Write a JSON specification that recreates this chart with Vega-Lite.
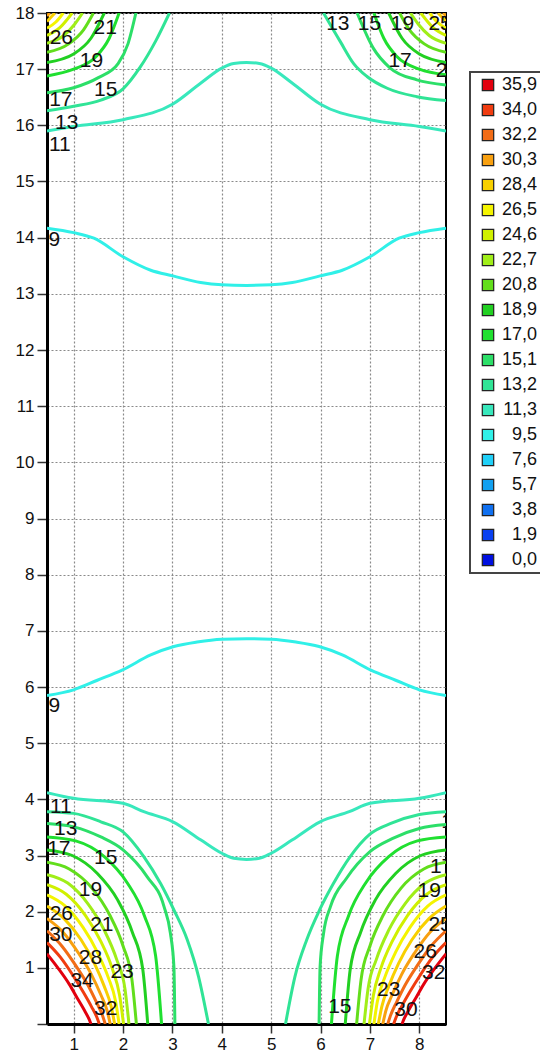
{
"$schema": "https://vega.github.io/schema/vega-lite/v6.json",
"width": 399, "height": 1011,
"autosize": {"type": "none"},
"padding": {"left": 47, "top": 13, "right": 94, "bottom": 37},
"background": "white",
"config": {"view": {"stroke": "black", "strokeWidth": 2}, "font": "Liberation Sans", "legend": {"strokeWidth": 2}},
"datasets": {
"lines": [
{"l":"9,5","s":"T9","x":0.46,"y":14.17},{"l":"9,5","s":"T9","x":1.0,"y":14.09},{"l":"9,5","s":"T9","x":1.41,"y":13.99},{"l":"9,5","s":"T9","x":2.0,"y":13.66},{"l":"9,5","s":"T9","x":2.56,"y":13.42},{"l":"9,5","s":"T9","x":3.01,"y":13.32},{"l":"9,5","s":"T9","x":3.57,"y":13.2},{"l":"9,5","s":"T9","x":4.0,"y":13.16},{"l":"9,5","s":"T9","x":4.5,"y":13.15},{"l":"9,5","s":"T9","x":5.0,"y":13.16},{"l":"9,5","s":"T9","x":5.43,"y":13.2},{"l":"9,5","s":"T9","x":5.99,"y":13.32},{"l":"9,5","s":"T9","x":6.44,"y":13.42},{"l":"9,5","s":"T9","x":7.0,"y":13.66},{"l":"9,5","s":"T9","x":7.59,"y":13.99},{"l":"9,5","s":"T9","x":8.0,"y":14.09},{"l":"9,5","s":"T9","x":8.54,"y":14.17},
{"l":"11,3","s":"T11","x":0.46,"y":15.9},{"l":"11,3","s":"T11","x":1.0,"y":15.98},{"l":"11,3","s":"T11","x":2.0,"y":16.1},{"l":"11,3","s":"T11","x":3.01,"y":16.38},{"l":"11,3","s":"T11","x":3.57,"y":16.75},{"l":"11,3","s":"T11","x":4.0,"y":17.02},{"l":"11,3","s":"T11","x":4.24,"y":17.1},{"l":"11,3","s":"T11","x":4.5,"y":17.12},{"l":"11,3","s":"T11","x":4.76,"y":17.1},{"l":"11,3","s":"T11","x":5.0,"y":17.02},{"l":"11,3","s":"T11","x":5.43,"y":16.75},{"l":"11,3","s":"T11","x":5.99,"y":16.38},{"l":"11,3","s":"T11","x":7.0,"y":16.1},{"l":"11,3","s":"T11","x":8.0,"y":15.98},{"l":"11,3","s":"T11","x":8.54,"y":15.9},
{"l":"9,5","s":"B9","x":0.46,"y":5.85},{"l":"9,5","s":"B9","x":1.0,"y":5.95},{"l":"9,5","s":"B9","x":1.48,"y":6.12},{"l":"9,5","s":"B9","x":1.98,"y":6.3},{"l":"9,5","s":"B9","x":2.56,"y":6.57},{"l":"9,5","s":"B9","x":3.03,"y":6.72},{"l":"9,5","s":"B9","x":3.5,"y":6.8},{"l":"9,5","s":"B9","x":4.0,"y":6.85},{"l":"9,5","s":"B9","x":4.5,"y":6.86},{"l":"9,5","s":"B9","x":5.0,"y":6.85},{"l":"9,5","s":"B9","x":5.5,"y":6.8},{"l":"9,5","s":"B9","x":5.97,"y":6.72},{"l":"9,5","s":"B9","x":6.44,"y":6.57},{"l":"9,5","s":"B9","x":7.02,"y":6.3},{"l":"9,5","s":"B9","x":7.52,"y":6.12},{"l":"9,5","s":"B9","x":8.0,"y":5.95},{"l":"9,5","s":"B9","x":8.54,"y":5.85},
{"l":"11,3","s":"B11","x":0.46,"y":4.12},{"l":"11,3","s":"B11","x":1.0,"y":4.02},{"l":"11,3","s":"B11","x":2.0,"y":3.93},{"l":"11,3","s":"B11","x":2.42,"y":3.78},{"l":"11,3","s":"B11","x":3.01,"y":3.6},{"l":"11,3","s":"B11","x":3.57,"y":3.28},{"l":"11,3","s":"B11","x":4.0,"y":3.04},{"l":"11,3","s":"B11","x":4.24,"y":2.95},{"l":"11,3","s":"B11","x":4.5,"y":2.93},{"l":"11,3","s":"B11","x":4.76,"y":2.95},{"l":"11,3","s":"B11","x":5.0,"y":3.04},{"l":"11,3","s":"B11","x":5.43,"y":3.28},{"l":"11,3","s":"B11","x":5.99,"y":3.6},{"l":"11,3","s":"B11","x":6.58,"y":3.78},{"l":"11,3","s":"B11","x":7.0,"y":3.93},{"l":"11,3","s":"B11","x":8.0,"y":4.02},{"l":"11,3","s":"B11","x":8.54,"y":4.12},
{"l":"13,2","s":"BL13","x":0.46,"y":3.78},{"l":"13,2","s":"BL13","x":1.0,"y":3.75},{"l":"13,2","s":"BL13","x":1.55,"y":3.6},{"l":"13,2","s":"BL13","x":2.0,"y":3.42},{"l":"13,2","s":"BL13","x":2.42,"y":2.98},{"l":"13,2","s":"BL13","x":2.76,"y":2.5},{"l":"13,2","s":"BL13","x":3.03,"y":2.03},{"l":"13,2","s":"BL13","x":3.3,"y":1.5},{"l":"13,2","s":"BL13","x":3.53,"y":0.84},{"l":"13,2","s":"BL13","x":3.73,"y":0},
{"l":"15,1","s":"BL15","x":0.46,"y":3.57},{"l":"15,1","s":"BL15","x":1.0,"y":3.51},{"l":"15,1","s":"BL15","x":1.55,"y":3.33},{"l":"15,1","s":"BL15","x":2.0,"y":3.1},{"l":"15,1","s":"BL15","x":2.49,"y":2.62},{"l":"15,1","s":"BL15","x":2.83,"y":2.09},{"l":"15,1","s":"BL15","x":2.96,"y":1.61},{"l":"15,1","s":"BL15","x":3.03,"y":1.02},{"l":"15,1","s":"BL15","x":3.05,"y":0},
{"l":"17,0","s":"BL17","x":0.46,"y":3.33},{"l":"17,0","s":"BL17","x":1.04,"y":3.26},{"l":"17,0","s":"BL17","x":1.62,"y":2.98},{"l":"17,0","s":"BL17","x":2.08,"y":2.52},{"l":"17,0","s":"BL17","x":2.43,"y":1.93},{"l":"17,0","s":"BL17","x":2.66,"y":1.21},{"l":"17,0","s":"BL17","x":2.78,"y":0},
{"l":"18,9","s":"BL18","x":0.46,"y":3.1},{"l":"18,9","s":"BL18","x":0.97,"y":3.0},{"l":"18,9","s":"BL18","x":1.48,"y":2.68},{"l":"18,9","s":"BL18","x":1.89,"y":2.21},{"l":"18,9","s":"BL18","x":2.19,"y":1.63},{"l":"18,9","s":"BL18","x":2.4,"y":0.97},{"l":"18,9","s":"BL18","x":2.5,"y":0},
{"l":"20,8","s":"BL20","x":0.46,"y":2.88},{"l":"20,8","s":"BL20","x":0.91,"y":2.76},{"l":"20,8","s":"BL20","x":1.37,"y":2.42},{"l":"20,8","s":"BL20","x":1.73,"y":1.94},{"l":"20,8","s":"BL20","x":2.0,"y":1.39},{"l":"20,8","s":"BL20","x":2.18,"y":0.79},{"l":"20,8","s":"BL20","x":2.27,"y":0},
{"l":"22,7","s":"BL22","x":0.46,"y":2.66},{"l":"22,7","s":"BL22","x":0.88,"y":2.51},{"l":"22,7","s":"BL22","x":1.29,"y":2.14},{"l":"22,7","s":"BL22","x":1.62,"y":1.67},{"l":"22,7","s":"BL22","x":1.87,"y":1.15},{"l":"22,7","s":"BL22","x":2.04,"y":0.62},{"l":"22,7","s":"BL22","x":2.12,"y":0},
{"l":"24,6","s":"BL24","x":0.46,"y":2.48},{"l":"24,6","s":"BL24","x":0.85,"y":2.31},{"l":"24,6","s":"BL24","x":1.24,"y":1.93},{"l":"24,6","s":"BL24","x":1.55,"y":1.47},{"l":"24,6","s":"BL24","x":1.78,"y":0.99},{"l":"24,6","s":"BL24","x":1.93,"y":0.51},{"l":"24,6","s":"BL24","x":2.01,"y":0},
{"l":"26,5","s":"BL26","x":0.46,"y":2.3},{"l":"26,5","s":"BL26","x":0.83,"y":2.1},{"l":"26,5","s":"BL26","x":1.19,"y":1.72},{"l":"26,5","s":"BL26","x":1.48,"y":1.28},{"l":"26,5","s":"BL26","x":1.7,"y":0.83},{"l":"26,5","s":"BL26","x":1.85,"y":0.4},{"l":"26,5","s":"BL26","x":1.92,"y":0},
{"l":"28,4","s":"BL28","x":0.46,"y":2.1},{"l":"28,4","s":"BL28","x":0.8,"y":1.88},{"l":"28,4","s":"BL28","x":1.15,"y":1.5},{"l":"28,4","s":"BL28","x":1.42,"y":1.08},{"l":"28,4","s":"BL28","x":1.62,"y":0.67},{"l":"28,4","s":"BL28","x":1.76,"y":0.31},{"l":"28,4","s":"BL28","x":1.83,"y":0},
{"l":"30,3","s":"BL30","x":0.46,"y":1.88},{"l":"30,3","s":"BL30","x":0.78,"y":1.64},{"l":"30,3","s":"BL30","x":1.1,"y":1.26},{"l":"30,3","s":"BL30","x":1.36,"y":0.88},{"l":"30,3","s":"BL30","x":1.55,"y":0.52},{"l":"30,3","s":"BL30","x":1.68,"y":0.23},{"l":"30,3","s":"BL30","x":1.74,"y":0},
{"l":"32,2","s":"BL32","x":0.46,"y":1.66},{"l":"32,2","s":"BL32","x":0.76,"y":1.39},{"l":"32,2","s":"BL32","x":1.05,"y":1.03},{"l":"32,2","s":"BL32","x":1.29,"y":0.69},{"l":"32,2","s":"BL32","x":1.46,"y":0.39},{"l":"32,2","s":"BL32","x":1.58,"y":0.16},{"l":"32,2","s":"BL32","x":1.64,"y":0},
{"l":"34,0","s":"BL34","x":0.46,"y":1.45},{"l":"34,0","s":"BL34","x":0.73,"y":1.19},{"l":"34,0","s":"BL34","x":0.99,"y":0.86},{"l":"34,0","s":"BL34","x":1.2,"y":0.56},{"l":"34,0","s":"BL34","x":1.36,"y":0.31},{"l":"34,0","s":"BL34","x":1.47,"y":0.12},{"l":"34,0","s":"BL34","x":1.52,"y":0},
{"l":"35,9","s":"BL35","x":0.46,"y":1.25},{"l":"35,9","s":"BL35","x":0.68,"y":1.0},{"l":"35,9","s":"BL35","x":0.91,"y":0.71},{"l":"35,9","s":"BL35","x":1.08,"y":0.45},{"l":"35,9","s":"BL35","x":1.22,"y":0.24},{"l":"35,9","s":"BL35","x":1.31,"y":0.09},{"l":"35,9","s":"BL35","x":1.35,"y":0},
{"l":"13,2","s":"BR13","x":8.54,"y":3.78},{"l":"13,2","s":"BR13","x":8.0,"y":3.73},{"l":"13,2","s":"BR13","x":7.45,"y":3.58},{"l":"13,2","s":"BR13","x":7.0,"y":3.38},{"l":"13,2","s":"BR13","x":6.6,"y":2.98},{"l":"13,2","s":"BR13","x":6.26,"y":2.5},{"l":"13,2","s":"BR13","x":5.98,"y":2.03},{"l":"13,2","s":"BR13","x":5.72,"y":1.5},{"l":"13,2","s":"BR13","x":5.48,"y":0.84},{"l":"13,2","s":"BR13","x":5.29,"y":0},
{"l":"15,1","s":"BR15","x":8.54,"y":3.55},{"l":"15,1","s":"BR15","x":8.0,"y":3.48},{"l":"15,1","s":"BR15","x":7.45,"y":3.3},{"l":"15,1","s":"BR15","x":7.0,"y":3.07},{"l":"15,1","s":"BR15","x":6.53,"y":2.6},{"l":"15,1","s":"BR15","x":6.2,"y":2.09},{"l":"15,1","s":"BR15","x":6.06,"y":1.61},{"l":"15,1","s":"BR15","x":5.99,"y":1.02},{"l":"15,1","s":"BR15","x":5.97,"y":0},
{"l":"17,0","s":"BR17","x":8.54,"y":3.33},{"l":"17,0","s":"BR17","x":7.96,"y":3.26},{"l":"17,0","s":"BR17","x":7.38,"y":2.98},{"l":"17,0","s":"BR17","x":6.92,"y":2.52},{"l":"17,0","s":"BR17","x":6.57,"y":1.93},{"l":"17,0","s":"BR17","x":6.34,"y":1.21},{"l":"17,0","s":"BR17","x":6.22,"y":0},
{"l":"18,9","s":"BR18","x":8.54,"y":3.1},{"l":"18,9","s":"BR18","x":8.03,"y":3.0},{"l":"18,9","s":"BR18","x":7.52,"y":2.68},{"l":"18,9","s":"BR18","x":7.11,"y":2.21},{"l":"18,9","s":"BR18","x":6.81,"y":1.63},{"l":"18,9","s":"BR18","x":6.6,"y":0.97},{"l":"18,9","s":"BR18","x":6.5,"y":0},
{"l":"20,8","s":"BR20","x":8.54,"y":2.88},{"l":"20,8","s":"BR20","x":8.09,"y":2.76},{"l":"20,8","s":"BR20","x":7.63,"y":2.42},{"l":"20,8","s":"BR20","x":7.27,"y":1.94},{"l":"20,8","s":"BR20","x":7.0,"y":1.39},{"l":"20,8","s":"BR20","x":6.82,"y":0.79},{"l":"20,8","s":"BR20","x":6.73,"y":0},
{"l":"22,7","s":"BR22","x":8.54,"y":2.66},{"l":"22,7","s":"BR22","x":8.12,"y":2.51},{"l":"22,7","s":"BR22","x":7.71,"y":2.14},{"l":"22,7","s":"BR22","x":7.38,"y":1.67},{"l":"22,7","s":"BR22","x":7.13,"y":1.15},{"l":"22,7","s":"BR22","x":6.96,"y":0.62},{"l":"22,7","s":"BR22","x":6.88,"y":0},
{"l":"24,6","s":"BR24","x":8.54,"y":2.48},{"l":"24,6","s":"BR24","x":8.15,"y":2.31},{"l":"24,6","s":"BR24","x":7.76,"y":1.93},{"l":"24,6","s":"BR24","x":7.45,"y":1.47},{"l":"24,6","s":"BR24","x":7.22,"y":0.99},{"l":"24,6","s":"BR24","x":7.07,"y":0.51},{"l":"24,6","s":"BR24","x":6.99,"y":0},
{"l":"26,5","s":"BR26","x":8.54,"y":2.3},{"l":"26,5","s":"BR26","x":8.17,"y":2.1},{"l":"26,5","s":"BR26","x":7.81,"y":1.72},{"l":"26,5","s":"BR26","x":7.52,"y":1.28},{"l":"26,5","s":"BR26","x":7.3,"y":0.83},{"l":"26,5","s":"BR26","x":7.15,"y":0.4},{"l":"26,5","s":"BR26","x":7.08,"y":0},
{"l":"28,4","s":"BR28","x":8.54,"y":2.1},{"l":"28,4","s":"BR28","x":8.2,"y":1.88},{"l":"28,4","s":"BR28","x":7.85,"y":1.5},{"l":"28,4","s":"BR28","x":7.58,"y":1.08},{"l":"28,4","s":"BR28","x":7.38,"y":0.67},{"l":"28,4","s":"BR28","x":7.24,"y":0.31},{"l":"28,4","s":"BR28","x":7.17,"y":0},
{"l":"30,3","s":"BR30","x":8.54,"y":1.88},{"l":"30,3","s":"BR30","x":8.22,"y":1.64},{"l":"30,3","s":"BR30","x":7.9,"y":1.26},{"l":"30,3","s":"BR30","x":7.64,"y":0.88},{"l":"30,3","s":"BR30","x":7.45,"y":0.52},{"l":"30,3","s":"BR30","x":7.32,"y":0.23},{"l":"30,3","s":"BR30","x":7.26,"y":0},
{"l":"32,2","s":"BR32","x":8.54,"y":1.66},{"l":"32,2","s":"BR32","x":8.24,"y":1.39},{"l":"32,2","s":"BR32","x":7.95,"y":1.03},{"l":"32,2","s":"BR32","x":7.71,"y":0.69},{"l":"32,2","s":"BR32","x":7.54,"y":0.39},{"l":"32,2","s":"BR32","x":7.42,"y":0.16},{"l":"32,2","s":"BR32","x":7.36,"y":0},
{"l":"34,0","s":"BR34","x":8.54,"y":1.45},{"l":"34,0","s":"BR34","x":8.27,"y":1.19},{"l":"34,0","s":"BR34","x":8.01,"y":0.86},{"l":"34,0","s":"BR34","x":7.8,"y":0.56},{"l":"34,0","s":"BR34","x":7.64,"y":0.31},{"l":"34,0","s":"BR34","x":7.53,"y":0.12},{"l":"34,0","s":"BR34","x":7.48,"y":0},
{"l":"35,9","s":"BR35","x":8.54,"y":1.25},{"l":"35,9","s":"BR35","x":8.32,"y":1.0},{"l":"35,9","s":"BR35","x":8.09,"y":0.71},{"l":"35,9","s":"BR35","x":7.92,"y":0.45},{"l":"35,9","s":"BR35","x":7.78,"y":0.24},{"l":"35,9","s":"BR35","x":7.69,"y":0.09},{"l":"35,9","s":"BR35","x":7.65,"y":0},
{"l":"13,2","s":"TL13","x":0.46,"y":16.26},{"l":"13,2","s":"TL13","x":1.0,"y":16.34},{"l":"13,2","s":"TL13","x":1.55,"y":16.45},{"l":"13,2","s":"TL13","x":2.0,"y":16.65},{"l":"13,2","s":"TL13","x":2.35,"y":17.04},{"l":"13,2","s":"TL13","x":2.66,"y":17.5},{"l":"13,2","s":"TL13","x":2.94,"y":18},
{"l":"15,1","s":"TL15","x":0.46,"y":16.58},{"l":"15,1","s":"TL15","x":1.0,"y":16.67},{"l":"15,1","s":"TL15","x":1.5,"y":16.85},{"l":"15,1","s":"TL15","x":1.9,"y":17.1},{"l":"15,1","s":"TL15","x":2.1,"y":17.45},{"l":"15,1","s":"TL15","x":2.26,"y":18},
{"l":"17,0","s":"TL17","x":0.46,"y":16.88},{"l":"17,0","s":"TL17","x":1.0,"y":17.0},{"l":"17,0","s":"TL17","x":1.45,"y":17.22},{"l":"17,0","s":"TL17","x":1.72,"y":17.55},{"l":"17,0","s":"TL17","x":1.92,"y":18},
{"l":"18,9","s":"TL18","x":0.46,"y":17.12},{"l":"18,9","s":"TL18","x":1.0,"y":17.27},{"l":"18,9","s":"TL18","x":1.35,"y":17.55},{"l":"18,9","s":"TL18","x":1.62,"y":18},
{"l":"20,8","s":"TL20","x":0.46,"y":17.3},{"l":"20,8","s":"TL20","x":0.9,"y":17.45},{"l":"20,8","s":"TL20","x":1.2,"y":17.7},{"l":"20,8","s":"TL20","x":1.4,"y":18},
{"l":"22,7","s":"TL22","x":0.46,"y":17.46},{"l":"22,7","s":"TL22","x":0.8,"y":17.6},{"l":"22,7","s":"TL22","x":1.02,"y":17.8},{"l":"22,7","s":"TL22","x":1.18,"y":18},
{"l":"24,6","s":"TL24","x":0.46,"y":17.6},{"l":"24,6","s":"TL24","x":0.72,"y":17.74},{"l":"24,6","s":"TL24","x":0.97,"y":18},
{"l":"26,5","s":"TL26","x":0.46,"y":17.73},{"l":"26,5","s":"TL26","x":0.64,"y":17.84},{"l":"26,5","s":"TL26","x":0.79,"y":18},
{"l":"28,4","s":"TL28","x":0.46,"y":17.85},{"l":"28,4","s":"TL28","x":0.62,"y":18},
{"l":"30,3","s":"TL30","x":0.46,"y":17.95},{"l":"30,3","s":"TL30","x":0.52,"y":18},
{"l":"13,2","s":"TR13","x":6.06,"y":18},{"l":"13,2","s":"TR13","x":6.4,"y":17.49},{"l":"13,2","s":"TR13","x":6.67,"y":17.1},{"l":"13,2","s":"TR13","x":6.94,"y":16.87},{"l":"13,2","s":"TR13","x":7.35,"y":16.66},{"l":"13,2","s":"TR13","x":7.95,"y":16.51},{"l":"13,2","s":"TR13","x":8.54,"y":16.44},
{"l":"15,1","s":"TR15","x":6.74,"y":18},{"l":"15,1","s":"TR15","x":7.07,"y":17.37},{"l":"15,1","s":"TR15","x":7.41,"y":17.02},{"l":"15,1","s":"TR15","x":7.95,"y":16.81},{"l":"15,1","s":"TR15","x":8.54,"y":16.72},
{"l":"17,0","s":"TR17","x":7.08,"y":18},{"l":"17,0","s":"TR17","x":7.28,"y":17.55},{"l":"17,0","s":"TR17","x":7.55,"y":17.22},{"l":"17,0","s":"TR17","x":8.0,"y":17.0},{"l":"17,0","s":"TR17","x":8.54,"y":16.9},
{"l":"18,9","s":"TR18","x":7.38,"y":18},{"l":"18,9","s":"TR18","x":7.65,"y":17.55},{"l":"18,9","s":"TR18","x":8.0,"y":17.27},{"l":"18,9","s":"TR18","x":8.54,"y":17.12},
{"l":"20,8","s":"TR20","x":7.6,"y":18},{"l":"20,8","s":"TR20","x":7.8,"y":17.7},{"l":"20,8","s":"TR20","x":8.1,"y":17.45},{"l":"20,8","s":"TR20","x":8.54,"y":17.3},
{"l":"22,7","s":"TR22","x":7.82,"y":18},{"l":"22,7","s":"TR22","x":7.98,"y":17.8},{"l":"22,7","s":"TR22","x":8.2,"y":17.6},{"l":"22,7","s":"TR22","x":8.54,"y":17.46},
{"l":"24,6","s":"TR24","x":8.03,"y":18},{"l":"24,6","s":"TR24","x":8.28,"y":17.74},{"l":"24,6","s":"TR24","x":8.54,"y":17.6},
{"l":"26,5","s":"TR26","x":8.21,"y":18},{"l":"26,5","s":"TR26","x":8.36,"y":17.84},{"l":"26,5","s":"TR26","x":8.54,"y":17.73},
{"l":"28,4","s":"TR28","x":8.38,"y":18},{"l":"28,4","s":"TR28","x":8.54,"y":17.85},
{"l":"30,3","s":"TR30","x":8.48,"y":18},{"l":"30,3","s":"TR30","x":8.54,"y":17.95}
],
"labels": [
{"t":"26","x":0.75,"y":17.56},{"t":"21","x":1.64,"y":17.74},{"t":"19","x":1.36,"y":17.14},{"t":"17","x":0.74,"y":16.45},{"t":"15","x":1.65,"y":16.63},{"t":"13","x":0.86,"y":16.05},{"t":"11","x":0.72,"y":15.65},
{"t":"13","x":6.35,"y":17.8},{"t":"15","x":6.99,"y":17.8},{"t":"19","x":7.66,"y":17.8},{"t":"25","x":8.42,"y":17.8},{"t":"17","x":7.61,"y":17.14},{"t":"21","x":8.57,"y":16.97},
{"t":"9","x":0.61,"y":13.95},{"t":"9","x":0.61,"y":5.66},
{"t":"11","x":0.74,"y":3.87},{"t":"13","x":0.84,"y":3.48},{"t":"17","x":0.7,"y":3.12},{"t":"15","x":1.65,"y":2.96},{"t":"19","x":1.34,"y":2.38},{"t":"26","x":0.75,"y":1.95},{"t":"21","x":1.57,"y":1.77},{"t":"30","x":0.74,"y":1.58},{"t":"28","x":1.34,"y":1.18},{"t":"23","x":1.98,"y":0.92},{"t":"34","x":1.17,"y":0.77},{"t":"32","x":1.65,"y":0.26},
{"t":"13","x":8.68,"y":3.6},{"t":"17","x":8.45,"y":2.8},{"t":"19","x":8.2,"y":2.36},{"t":"25","x":8.42,"y":1.76},{"t":"26","x":8.12,"y":1.29},{"t":"32","x":8.29,"y":0.9},{"t":"23","x":7.38,"y":0.6},{"t":"30","x":7.73,"y":0.25},{"t":"15","x":6.39,"y":0.31}
],
"levels": [
{"l":"35,9"},{"l":"34,0"},{"l":"32,2"},{"l":"30,3"},{"l":"28,4"},{"l":"26,5"},{"l":"24,6"},{"l":"22,7"},{"l":"20,8"},{"l":"18,9"},{"l":"17,0"},{"l":"15,1"},{"l":"13,2"},{"l":"11,3"},{"l":"9,5"},{"l":"7,6"},{"l":"5,7"},{"l":"3,8"},{"l":"1,9"},{"l":"0,0"}
]
},
"encoding": {
"x": {"field": "x", "type": "quantitative", "scale": {"domain": [0.46, 8.54], "zero": false, "nice": false},
 "axis": {"title": null, "values": [1,2,3,4,5,6,7,8], "format": "d",
  "labelOverlap": false, "labelFlush": false, "labelFontSize": 17, "labelFont": "Liberation Sans", "labelColor": "#111", "labelPadding": 3,
  "tickSize": 9, "tickColor": "#333", "tickWidth": 1.5,
  "domainColor": "black", "domainWidth": 3,
  "grid": true, "gridColor": "#8a8a8a", "gridDash": [2, 2], "gridWidth": 1.2}},
"y": {"field": "y", "type": "quantitative", "scale": {"domain": [0, 18], "zero": false, "nice": false},
 "axis": {"title": null, "values": [0,1,2,3,4,5,6,7,8,9,10,11,12,13,14,15,16,17,18], "format": "d",
  "labelExpr": "datum.value > 0 ? datum.label : ''", "labelOverlap": false, "labelFlush": false, "labelFontSize": 17, "labelFont": "Liberation Sans", "labelColor": "#111", "labelPadding": 3,
  "tickSize": 10, "tickColor": "#333", "tickWidth": 1.5,
  "domainColor": "black", "domainWidth": 3,
  "grid": true, "gridColor": "#8a8a8a", "gridDash": [2, 2], "gridWidth": 1.2}}
},
"layer": [
{
"data": {"name": "lines"},
"mark": {"type": "line", "strokeWidth": 3, "clip": true, "interpolate": "monotone"},
"encoding": {
"stroke": {"field": "l", "type": "nominal", "legend": null,
 "scale": {"domain": ["35,9","34,0","32,2","30,3","28,4","26,5","24,6","22,7","20,8","18,9","17,0","15,1","13,2","11,3","9,5"],
  "range": ["#e2000e","#f03c10","#f26c16","#f8a010","#f8d000","#f4f400","#d0f000","#a0ee18","#62de1c","#22d022","#20e030","#2cdf68","#30e496","#38e8bc","#30f0e8"]}},
"detail": {"field": "s", "type": "nominal"}
}
},
{
"data": {"name": "labels"},
"mark": {"type": "text", "fontSize": 21, "font": "Liberation Sans", "color": "#111", "align": "center", "baseline": "middle", "clip": true},
"encoding": {
"text": {"field": "t", "type": "nominal"}
}
},
{
"data": {"name": "levels"},
"mark": {"type": "square", "opacity": 0},
"encoding": {
"fill": {"field": "l", "type": "nominal",
 "scale": {"domain": ["35,9","34,0","32,2","30,3","28,4","26,5","24,6","22,7","20,8","18,9","17,0","15,1","13,2","11,3","9,5","7,6","5,7","3,8","1,9","0,0"],
  "range": ["#e2000e","#f03c10","#f26c16","#f8a010","#f8d000","#f4f400","#d0f000","#a0ee18","#62de1c","#22d022","#20e030","#2cdf68","#30e496","#38e8bc","#30f0e8","#20d0f8","#12a0f0","#1070f0","#0840f0","#0010e0"]},
 "legend": {"orient": "none", "legendX": 423, "legendY": 59, "title": null,
  "symbolType": "square", "symbolSize": 130, "symbolStrokeColor": "#222", "symbolStrokeWidth": 1.2, "symbolOpacity": 1,
  "labelFontSize": 18, "labelFont": "Liberation Sans", "labelColor": "#111", "labelAlign": "right", "labelOffset": 40, "labelLimit": 120,
  "rowPadding": 7, "padding": 4, "symbolOffset": 5,
  "strokeColor": "#444", "fillColor": "white"}}
}
}
]
}
